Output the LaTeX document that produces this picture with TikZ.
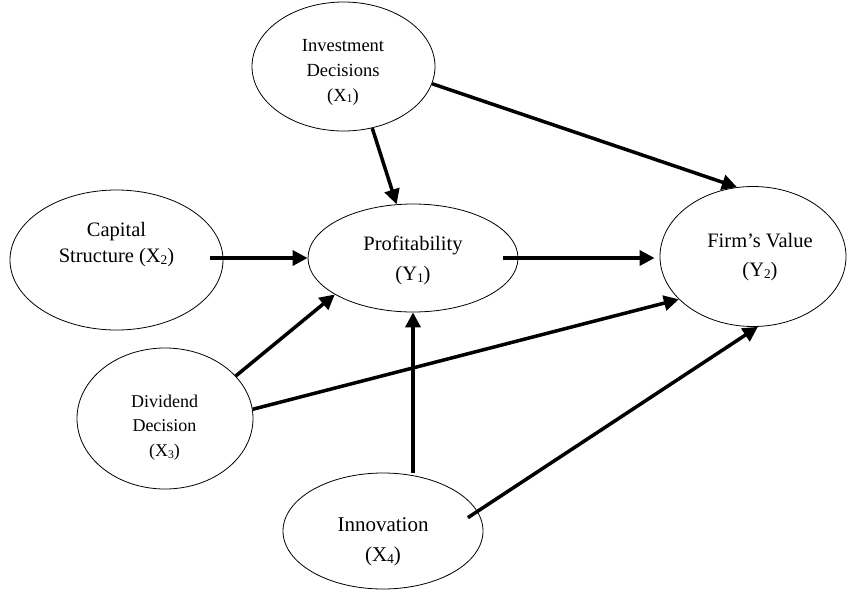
\documentclass[tikz,border=0pt]{standalone}
\usepackage{fontspec}
\setmainfont{Liberation Serif}
\usepackage{graphicx}
\usetikzlibrary{arrows.meta,shapes.geometric}
\newcommand\subdig[1]{\raisebox{-0.1em}{\scalebox{0.65}{#1}}}
\begin{document}
\begin{tikzpicture}[x=1pt,y=-1pt,
  ellnode/.style={draw, ellipse, line width=0.8pt, inner sep=0pt},
  lbl/.style={align=center, inner sep=0pt},
  conn/.style={line width=3.5pt, -{Triangle[length=15pt,width=15pt]}},
]
\useasboundingbox (0,0) rectangle (847,590);
% ellipses
\node[ellnode, minimum width=183pt, minimum height=129pt] (inv) at (343.5,66.5) {};
\node[ellnode, minimum width=213pt, minimum height=140pt] (cap) at (116.5,260) {};
\node[ellnode, minimum width=210pt, minimum height=108pt] (prof) at (413,258) {};
\node[ellnode, minimum width=186pt, minimum height=140pt] (firm) at (753,256.5) {};
\node[ellnode, minimum width=176pt, minimum height=141pt] (div) at (165,418.5) {};
\node[ellnode, minimum width=200pt, minimum height=116pt] (inn) at (383,531) {};
% labels
\node[lbl, font=\fontsize{18.5}{25}\selectfont] (invt) at (343,72) {Investment\\Decisions\\(X\subdig{1})};
\node[lbl, font=\fontsize{20.5}{26}\selectfont] (capt) at (116.5,245) {Capital\\Structure (X\subdig{2})};
\node[lbl, font=\fontsize{20.5}{30}\selectfont] (proft) at (413,260) {Profitability\\(Y\subdig{1})};
\node[lbl, font=\fontsize{20.5}{29}\selectfont] (firmt) at (760,257.5) {Firm’s Value\\(Y\subdig{2})};
\node[lbl, font=\fontsize{18}{24.5}\selectfont] (divt) at (164.5,427.5) {Dividend\\Decision\\(X\subdig{3})};
\node[lbl, font=\fontsize{21}{30}\selectfont] (innt) at (383,542) {Innovation\\(X\subdig{4})};
% connectors
\draw[conn] (inv.-65) -- (prof.107);
\draw[conn] (inv.-11) -- (firm.103);
\draw[conn] ([xshift=-13pt,yshift=2pt]cap.east) -- (prof.west);
\draw[conn, shorten >=5pt] ([xshift=-15pt]prof.east) -- (firm.west |- prof.east);
\draw[conn] (div.31) -- (prof.205);
\draw[conn] (div.6) -- (firm.210);
\draw[conn] (prof.south |- inn.north) -- (prof.south);
\draw[conn] ([xshift=-12pt,yshift=-2pt]inn.9) -- (firm.-86);
\end{tikzpicture}
\end{document}
